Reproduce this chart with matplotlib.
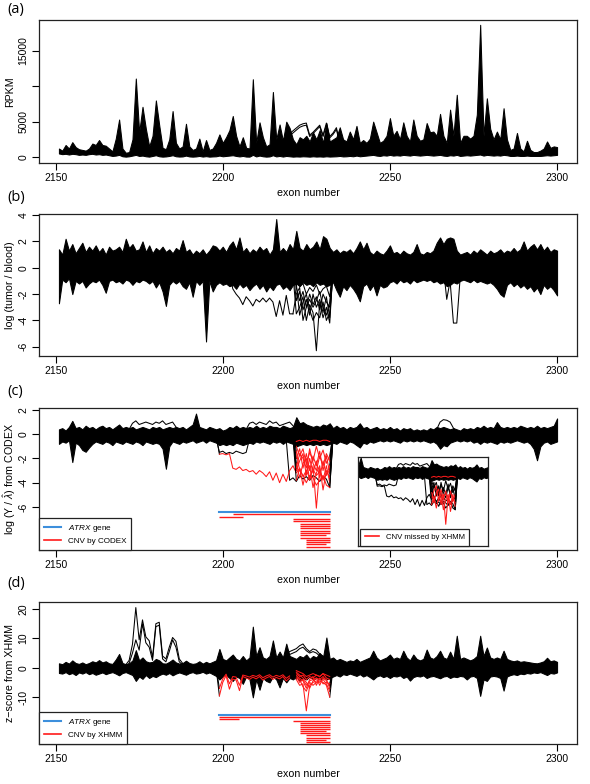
import matplotlib
matplotlib.use('Agg')
import matplotlib.pyplot as plt
from matplotlib.lines import Line2D

plt.rcParams['font.family'] = ['Liberation Sans', 'DejaVu Sans']
plt.rcParams['mathtext.fontset'] = 'custom'
plt.rcParams['mathtext.rm'] = 'Liberation Sans'
plt.rcParams['mathtext.it'] = 'Liberation Sans:italic'
plt.rcParams['axes.unicode_minus'] = False

# ---------------- data ----------------
exons = list(range(2151, 2301))
x_ticks = [2150, 2200, 2250, 2300]

# (a) RPKM envelope of all samples
a_upper = [1200, 900, 1700, 1200, 2100, 1400, 1100, 1000, 900, 1200,
           1900, 1700, 2400, 1700, 1600, 1200, 800, 2600, 5300, 1200,
           600, 700, 2500, 11100, 3500, 7100, 4000, 1500, 3000, 8000,
           4500, 1300, 1100, 2500, 6500, 2000, 1200, 1500, 4700, 1500,
           1000, 1200, 2600, 800, 2400, 1000, 1200, 2000, 3200, 2000,
           2800, 3800, 5800, 3000, 1500, 2800, 1300, 1200, 11000, 2000,
           4900, 2800, 1500, 1800, 9200, 2500, 4600, 2300, 5000, 4100,
           2500, 1800, 2800, 2500, 3000, 2200, 3500, 2500, 3800, 2000,
           4800, 2200, 2500, 2800, 4200, 2500, 2200, 3600, 2500, 4400,
           2000, 2400, 2000, 2600, 5000, 3500, 2000, 2300, 3000, 5500,
           3000, 3700, 2500, 4900, 3000, 2200, 5300, 3000, 2300, 2500,
           4800, 3500, 3600, 3000, 6100, 3000, 2000, 6700, 3000, 8800,
           2000, 3000, 3000, 2600, 3000, 6000, 18700, 3000, 8300, 4000,
           2500, 3600, 2500, 6900, 2500, 1000, 1200, 3400, 1200, 800,
           2300, 1000, 700, 700, 900, 1200, 2200, 1300, 1500, 1400]
a_lower = [500, 400, 450, 350, 450, 400, 300, 350, 300, 400,
           450, 350, 400, 300, 350, 250, 150, 200, 300, 100,
           50, 100, 200, 300, 150, 200, 100, 50, 150, 250,
           100, 50, 80, 150, 250, 100, 60, 80, 200, 80,
           50, 80, 150, 60, 120, 50, 80, 100, 200, 100,
           150, 200, 250, 150, 80, 150, 60, 50, 300, 80,
           200, 100, 50, 80, 250, 80, 150, 60, 150, 100,
           50, 80, 60, 100, 80, 50, 100, 60, 80, 50,
           100, 60, 80, 100, 150, 80, 100, 150, 100, 200,
           100, 150, 200, 250, 300, 200, 150, 250, 200, 300,
           200, 250, 200, 300, 250, 200, 300, 250, 200, 250,
           300, 250, 200, 250, 300, 200, 150, 250, 200, 300,
           150, 200, 250, 200, 250, 300, 350, 200, 300, 250,
           200, 250, 200, 300, 250, 150, 150, 200, 150, 150,
           200, 150, 150, 150, 150, 200, 250, 200, 250, 300]
a_out1_start = 2219
a_out1 = [2900, 3300, 3700, 4100, 4500, 4700, 4800, 3100, 3500, 4000,
          4500, 3100, 4800, 2900, 3400, 4150, 2000, 1500]
a_out2_start = 2219
a_out2 = [2600, 3000, 3400, 3800, 4200, 4400, 4500, 2900, 3300, 3800,
          4300, 2900, 4500, 2700, 3200, 3900, 1800, 1300]

# (b) log(tumor/blood)
b_upper = [1.4, 1.0, 2.2, 1.3, 1.8, 1.1, 1.5, 1.9, 1.2, 1.6,
           1.3, 1.7, 1.2, 1.5, 1.0, 1.6, 1.3, 1.4, 1.6, 1.2,
           2.2, 1.5, 1.8, 1.3, 1.4, 2.0, 1.2, 1.7, 1.1, 1.5,
           1.3, 1.6, 1.2, 1.4, 1.1, 1.5, 1.3, 2.1, 1.2, 1.4,
           1.0, 1.3, 1.1, 1.4, 1.0, 1.3, 1.7, 1.6, 1.3, 1.6,
           1.2, 1.7, 2.0, 1.4, 2.3, 1.2, 1.5, 1.1, 1.4, 1.2,
           1.6, 1.3, 1.5, 1.0, 1.4, 3.7, 1.2, 1.5, 1.2, 1.8,
           1.4, 2.8, 1.5, 1.3, 1.8, 1.4, 1.6, 2.0, 1.4, 2.4,
           2.2, 1.5, 1.2, 1.4, 1.1, 1.3, 1.2, 1.4, 1.1, 1.5,
           2.0, 1.4, 1.9, 1.2, 1.0, 1.3, 1.1, 1.0, 1.3, 1.7,
           1.1, 1.2, 1.0, 1.3, 1.1, 1.0, 1.2, 1.8, 1.1, 1.0,
           1.2, 1.1, 1.3, 1.9, 2.3, 1.8, 2.2, 2.3, 2.2, 1.3,
           1.0, 1.1, 1.2, 1.0, 1.3, 1.1, 1.4, 1.2, 1.0, 1.3,
           1.1, 1.2, 1.4, 1.1, 1.3, 1.2, 1.5, 1.2, 1.4, 2.0,
           1.3, 1.6, 1.8, 1.4, 1.8, 1.3, 1.6, 1.2, 1.4, 1.3]
b_lower = [-2.7, -0.9, -1.1, -0.8, -2.0, -1.0, -1.2, -1.0, -1.5, -1.2,
           -1.0, -1.1, -0.9, -1.3, -1.9, -1.0, -0.9, -1.1, -1.0, -1.2,
           -0.9, -1.0, -1.3, -1.0, -1.1, -0.9, -1.0, -1.2, -1.0, -1.5,
           -1.1, -1.8, -2.9, -1.3, -1.0, -1.2, -1.0, -1.4, -1.6, -1.1,
           -2.2, -1.0, -1.3, -1.0, -5.6, -1.0, -1.8, -1.3, -1.1, -1.3,
           -1.2, -1.4, -1.3, -1.6, -1.2, -1.5, -1.3, -1.7, -1.4, -1.2,
           -1.6, -1.3, -1.8, -1.4, -1.7, -1.3, -1.2, -1.6, -1.4, -1.7,
           -1.3, -1.2, -1.4, -1.1, -1.3, -1.2, -1.4, -1.1, -1.3, -1.2,
           -1.4, -1.3, -1.1, -1.7, -2.2, -1.4, -1.7, -1.3, -1.6, -2.0,
           -2.55, -1.4, -1.2, -1.7, -1.3, -2.1, -1.3, -1.5, -1.4, -1.1,
           -1.0, -1.2, -0.9, -1.1, -1.0, -1.2, -0.9, -1.1, -1.0, -0.9,
           -1.0, -0.9, -1.1, -1.0, -1.2, -1.1, -1.4, -1.3, -1.1, -1.2,
           -1.0, -0.9, -1.0, -1.1, -0.9, -1.1, -1.0, -1.1, -1.2, -1.1,
           -1.3, -1.6, -2.0, -2.2, -1.3, -1.1, -1.4, -1.2, -1.5, -1.3,
           -1.6, -1.4, -1.8, -1.5, -2.0, -1.3, -1.6, -1.4, -1.7, -2.1]
b_step_start = 2202
b_step = [-0.3, -1.6, -2.0, -2.3, -2.8, -2.2, -2.5, -2.9, -2.4, -2.6,
          -2.3, -2.6, -2.3, -2.6, -3.7, -2.5, -3.6, -2.1, -3.5, -3.5]
b_dip_start = 2266
b_dip = [0.0, -2.4, -1.0, -4.2, -4.2, -0.8, 0.0]
del_start = 2221
b_del = [[0.0, -1.5, -2.5, -1.8, -3.0, -2.0, -2.8, -2.2, -3.2, -2.0, -2.6, -3.0, 0.0],
         [0.0, -2.5, -1.8, -3.2, -2.4, -3.6, -2.0, -3.0, -2.4, -3.4, -2.2, -3.8, 0.0],
         [-0.5, -3.5, -3.0, -2.2, -4.0, -2.8, -3.4, -6.3, -2.6, -3.8, -3.0, -4.2, 0.0],
         [0.0, -1.2, -3.6, -2.6, -2.0, -3.2, -4.0, -3.4, -3.8, -2.6, -4.0, -3.4, -0.5],
         [-3.5, -2.0, -1.5, -4.0, -3.0, -2.4, -3.0, -2.5, -1.8, -3.0, -3.6, -2.6, 0.0],
         [0.0, -1.0, -1.4, -1.2, -2.0, -1.5, -1.8, -1.3, -2.0, -1.6, -1.4, -2.2, 0.0]]

# (c) log(Y / lambda-hat) from CODEX
c_upper = [0.4, 0.5, 0.3, 0.6, 1.1, 0.5, 0.6, 0.4, 0.7, 0.5,
           0.6, 0.4, 0.6, 0.7, 0.5, 0.6, 0.4, 0.6, 0.8, 0.5,
           0.6, 0.5, 0.6, 0.4, 0.5, 0.6, 0.5, 0.4, 0.6, 0.5,
           0.6, 0.4, 0.5, 0.6, 0.5, 0.6, 0.5, 0.6, 0.4, 0.6,
           0.8, 1.7, 0.6, 0.5, 0.4, 0.6, 0.5, 0.4, 0.5, 0.3,
           0.4, 0.6, 0.5, 0.7, 0.5, 0.6, 0.5, 0.6, 0.5, 0.7,
           0.5, 0.6, 0.5, 0.7, 0.6, 0.6, 0.5, 0.7, 0.6, 0.5,
           0.6, 1.4, 0.9, 1.0, 0.8, 0.7, 0.6, 0.7, 0.6, 0.8,
           0.7, 0.9, 0.5, 0.7, 0.5, 0.6, 0.4, 0.6, 0.5, 0.6,
           0.9, 0.5, 0.6, 0.4, 0.5, 0.6, 0.4, 0.5, 0.4, 0.6,
           0.4, 0.5, 0.3, 0.5, 0.4, 0.5, 0.3, 0.4, 0.3, 0.4,
           0.3, 0.5, 0.4, 0.6, 0.5, 0.6, 0.5, 0.4, 0.5, 0.4,
           0.3, 0.5, 0.4, 0.5, 0.4, 0.6, 0.5, 0.7, 0.5, 0.6,
           0.5, 1.0, 0.6, 0.5, 0.6, 0.5, 0.6, 0.5, 0.7, 0.6,
           0.5, 0.6, 0.5, 0.7, 0.5, 0.6, 0.5, 0.6, 0.7, 1.3]
c_lower = [-0.8, -0.6, -0.7, -0.5, -2.3, -0.7, -0.9, -1.3, -1.45, -1.1,
           -0.8, -0.6, -0.7, -0.8, -0.6, -0.7, -0.9, -0.6, -0.7, -0.8,
           -0.6, -0.7, -0.8, -0.6, -0.7, -0.9, -0.6, -0.7, -0.8, -0.7,
           -0.8, -1.2, -2.85, -1.0, -0.6, -0.7, -0.8, -0.6, -0.7, -0.6,
           -0.5, -0.7, -0.6, -0.5, -0.7, -0.5, -0.6, -0.7, -0.9, -0.8,
           -0.9, -0.8, -0.9, -0.7, -0.8, -0.9, -0.8, -0.7, -0.8, -0.6,
           -0.7, -0.6, -0.7, -0.8, -0.6, -0.7, -0.6, -0.8, -0.6, -0.7,
           -0.8, -1.0, -0.9, -0.8, -0.9, -0.8, -0.9, -0.8, -0.9, -0.8,
           -0.9, -0.8, -0.7, -0.8, -0.6, -0.7, -0.8, -0.6, -0.7, -0.9,
           -1.1, -0.7, -0.8, -0.6, -0.7, -0.6, -0.5, -0.6, -0.5, -0.6,
           -0.5, -0.6, -0.7, -0.5, -0.6, -0.5, -0.6, -0.5, -0.6, -0.5,
           -0.6, -0.7, -0.6, -0.8, -1.2, -0.9, -1.0, -0.7, -0.6, -0.5,
           -0.6, -0.5, -0.6, -0.5, -0.7, -0.6, -0.8, -0.6, -0.7, -0.6,
           -0.7, -0.8, -0.6, -0.7, -0.6, -0.7, -0.6, -0.5, -0.6, -0.7,
           -0.6, -0.8, -1.2, -2.15, -1.0, -0.7, -0.6, -0.8, -0.7, -0.6]
c_hi1_start = 2172
c_hi1 = [0.4, 0.9, 1.1, 0.8, 0.9, 1.0, 0.9, 0.8, 1.0, 0.9, 1.1, 0.8, 0.9, 1.0, 0.6, 0.3]
c_hi2_start = 2207
c_hi2 = [0.4, 0.9, 1.0, 0.8, 1.0, 0.9, 0.8, 1.1, 0.9, 1.0, 0.7, 0.8, 0.9, 1.0, 0.7, 0.3]
c_hi3_start = 2264
c_hi3 = [0.4, 1.0, 1.2, 1.15, 1.0, 0.5, 0.2]
c_blk1_start = 2198
c_blk1 = [-0.3, -1.5, -1.4, -1.6, -1.5, -1.6, -1.4, -1.5, -1.6, -1.5, -0.4]
c_blk2_start = 2219
c_blk2 = [-0.5, -3.8, -3.6, -3.9, -3.4, -3.7, -3.5, -3.8, -3.4, -3.6, -3.9, -3.5, -3.7, -4.4, -0.3]
c_step_start = 2198
c_step = [0.0, -1.65, -1.6, -1.7, -1.6, -2.8, -2.9, -2.7, -3.0, -2.9,
          -3.1, -3.0, -3.3, -3.0, -3.2, -3.5, -3.1, -3.8, -3.2, -4.0,
          -3.3, -3.9, -3.0, -2.6, -3.2, -2.8, -3.5, -3.0, -3.6, -2.9,
          -3.4, -3.1, -3.7, -3.3, -3.0, 0.0]
c_del = [[-0.2, -1.0, -1.8, -1.2, -2.5, -1.5, -2.2, -1.0, -2.0, -1.3, -2.4, -1.8, 0.0],
         [0.1, -2.0, -1.2, -2.8, -1.6, -3.0, -1.8, -2.6, -1.4, -3.0, -1.8, -3.2, -0.1],
         [-0.1, -3.0, -2.2, -1.6, -3.4, -2.0, -3.2, -2.2, -3.6, -2.2, -3.4, -2.6, 0.1],
         [0.0, -2.4, -3.6, -2.4, -2.0, -3.8, -2.6, -6.1, -2.8, -3.8, -2.6, -4.0, -0.2],
         [-0.3, -3.8, -2.8, -4.2, -3.0, -2.6, -4.4, -3.2, -2.6, -4.6, -3.0, -3.6, 0.0],
         [0.2, -1.4, -3.0, -3.4, -4.0, -3.4, -3.6, -4.2, -3.8, -3.4, -4.2, -4.4, -0.1],
         [-0.2, -0.6, -0.5, -0.6, -0.5, -0.6, -0.5, -0.5, -0.6, -0.5, -0.5, -0.6, -0.2],
         [0.0, -2.8, -1.6, -2.0, -2.8, -1.2, -2.4, -3.0, -1.8, -2.6, -1.6, -2.2, 0.2]]
inset_red = [2, 3, 4, 6]          # CNVs missed by XHMM (indices into c_del)
c_cnv_start = [2203, 2199, 2221, 2221, 2223, 2223, 2223, 2223, 2223, 2223, 2223, 2225, 2225, 2225, 2225]
c_cnv_end = [2232, 2206, 2232, 2232, 2232, 2232, 2232, 2232, 2232, 2231, 2232, 2232, 2232, 2231, 2232]

# (d) z-score from XHMM
d_upper = [1.5, 1.2, 2.0, 1.4, 2.5, 1.6, 1.3, 1.8, 1.2, 1.6,
           2.2, 1.8, 2.6, 1.8, 2.2, 1.5, 1.3, 2.8, 4.7, 1.6,
           1.2, 1.5, 2.5, 6.0, 2.5, 3.5, 2.2, 1.8, 2.0, 3.0,
           2.5, 1.5, 1.4, 2.0, 2.8, 1.8, 1.4, 1.6, 2.4, 1.6,
           1.3, 1.5, 2.2, 1.4, 2.0, 1.5, 2.0, 2.5, 6.4, 3.0,
           2.5, 3.5, 4.5, 3.0, 2.5, 4.0, 2.5, 3.5, 14.0, 4.0,
           7.0, 3.5, 3.0, 4.0, 9.3, 3.5, 5.5, 3.5, 8.2, 4.0,
           3.5, 3.0, 4.0, 3.5, 4.5, 3.0, 4.0, 3.5, 5.0, 3.5,
           10.3, 3.0, 3.5, 2.5, 3.0, 2.5, 2.0, 2.5, 2.2, 3.0,
           2.0, 2.5, 3.0, 3.5, 5.8, 3.5, 2.5, 3.0, 3.5, 4.5,
           3.0, 3.5, 3.0, 5.8, 3.5, 2.5, 4.5, 3.0, 2.5, 3.0,
           6.2, 3.5, 3.0, 4.0, 5.8, 3.5, 3.0, 5.5, 3.0, 10.9,
           3.0, 3.5, 3.0, 2.5, 3.0, 4.0, 10.9, 4.0, 6.9, 3.5,
           3.0, 3.5, 3.0, 5.8, 3.0, 2.5, 2.2, 2.5, 2.0, 2.2,
           2.0, 1.8, 1.6, 1.5, 1.8, 2.2, 3.4, 2.2, 2.5, 2.0]
d_lower = [-1.8, -2.0, -1.5, -2.2, -1.8, -2.5, -1.6, -2.0, -1.5, -2.2,
           -1.8, -2.4, -2.0, -1.6, -2.2, -1.8, -1.5, -2.0, -2.6, -1.8,
           -1.5, -2.0, -2.5, -4.5, -3.0, -3.8, -2.5, -3.5, -2.8, -3.2,
           -2.5, -2.0, -2.4, -1.8, -2.6, -2.0, -1.6, -2.0, -2.4, -1.8,
           -1.5, -2.0, -1.8, -1.4, -2.0, -1.6, -2.2, -2.8, -4.0, -3.0,
           -2.5, -3.5, -4.5, -3.0, -3.5, -5.5, -3.0, -4.0, -10.1, -4.0,
           -7.5, -3.5, -4.5, -5.0, -3.0, -4.0, -6.7, -3.5, -5.0, -3.5,
           -4.0, -3.0, -4.5, -3.5, -4.0, -3.0, -4.0, -3.5, -4.0, -3.5,
           -4.0, -3.5, -3.0, -2.5, -3.0, -2.2, -2.5, -2.0, -2.4, -2.8,
           -2.2, -3.0, -2.5, -3.2, -4.0, -3.0, -2.6, -3.2, -2.8, -3.5,
           -2.8, -3.0, -2.6, -3.5, -3.0, -4.4, -3.2, -2.8, -3.0, -2.6,
           -3.5, -3.0, -2.8, -3.2, -3.6, -3.0, -2.8, -3.5, -3.0, -3.2,
           -2.8, -3.0, -4.0, -3.0, -2.8, -3.5, -9.6, -4.0, -4.5, -3.0,
           -2.8, -3.0, -3.5, -7.8, -3.0, -2.5, -2.2, -2.5, -2.0, -2.2,
           -1.8, -2.0, -1.6, -1.8, -1.5, -2.0, -2.5, -1.8, -2.0, -1.6]
d_hi1_start = 2171
d_hi1 = [1.0, 2.5, 8.0, 20.5, 9.5, 16.3, 10.5, 9.2, 3.5, 15.0, 15.5, 4.0, 3.0, 7.0, 10.3, 9.0, 3.0, 1.5, 0.5]
d_hi2_start = 2171
d_hi2 = [0.5, 1.5, 5.0, 9.5, 6.0, 15.0, 8.5, 7.0, 2.5, 14.0, 14.5, 3.0, 2.0, 5.5, 9.5, 7.0, 2.0, 1.0, 0.0]
d_hi3_start = 2218
d_hi3 = [3.0, 4.7, 5.5, 6.0, 6.5, 7.5, 8.1, 6.5, 5.5, 6.4, 6.0, 4.7, 4.0, 3.0, 2.0, 1.0]
d_hi4_start = 2219
d_hi4 = [3.0, 4.5, 5.0, 5.5, 6.5, 7.0, 5.8, 5.0, 5.5, 5.0, 4.0, 3.5, 2.5, 1.0]
d_red_start = 2198
d_red1 = [0.0, -9.6, -5.0, -2.7, -7.3, -3.9, -4.2, -7.8, -3.0, -3.5, -4.0, -3.2,
          -3.8, -3.0, -4.2, -3.5, -3.0, -4.0, -3.3, -3.8, -3.0, -4.5, -3.5, -2.5]
d_red2 = [0.0, -7.0, -3.8, -2.2, -5.5, -3.0, -3.2, -6.0, -2.5, -2.8, -3.2, -2.6,
          -3.0, -2.4, -3.4, -2.8, -2.4, -3.2, -2.6, -3.0, -2.4, -3.6, -2.8, -2.0]
d_del = [[-2.5, -2.0, -3.0, -2.5, -4.0, -3.0, -3.5, -2.5, -3.0, -2.0, -3.5, -4.0, 0.0],
         [-2.0, -3.0, -5.0, -4.0, -6.0, -4.5, -4.0, -3.5, -4.0, -3.0, -4.5, -6.0, 0.0],
         [0.0, -4.0, -6.0, -5.5, -14.7, -6.0, -5.0, -4.5, -5.0, -4.0, -5.5, -8.0, 0.0],
         [0.0, -2.5, -4.0, -6.5, -8.0, -5.0, -6.0, -5.0, -4.5, -5.0, -6.0, -10.0, 0.0],
         [0.0, -1.5, -2.5, -3.5, -5.0, -7.0, -4.5, -3.5, -6.0, -3.5, -4.0, -7.0, 0.0],
         [0.0, -3.5, -3.5, -4.5, -7.0, -4.0, -3.0, -6.0, -3.5, -5.5, -5.0, -5.5, 0.0],
         [0.0, -1.0, -1.5, -2.0, -3.0, -2.5, -2.0, -2.5, -3.0, -2.0, -2.5, -3.0, 0.0]]
d_cnv_start = [2199, 2199, 2221, 2223, 2223, 2223, 2223, 2223, 2223, 2225, 2225, 2225, 2225]
d_cnv_end = [2232, 2205, 2232, 2232, 2232, 2232, 2232, 2231, 2232, 2232, 2232, 2231, 2232]

atrx_start, atrx_end = 2199, 2232

# ---------------- drawing ----------------
W, H = 590, 784
fig = plt.figure(figsize=(W / 100, H / 100), dpi=100)
RED = '#ff1a1a'
BLUE = '#3d8fdc'
LW = 0.75


def px_axes(left, top, right, bottom):
    return fig.add_axes([left / W, 1 - bottom / H, (right - left) / W, (bottom - top) / H])


def xs(start, vals):
    return list(range(start, start + len(vals)))


def red_line(ax, start, vals):
    """Sample line: black where it joins the band, red inside the CNV region."""
    x = xs(start, vals)
    ax.plot(x[:2], vals[:2], color='black', lw=LW)
    ax.plot(x[-2:], vals[-2:], color='black', lw=LW)
    ax.plot(x[1:-1], vals[1:-1], color=RED, lw=LW)


def style(ax, ylim, yticks, ylabels, ylabel):
    ax.set_xlim(2145.04, 2305.96)
    ax.set_ylim(*ylim)
    ax.set_xticks(x_ticks)
    ax.set_xticklabels([str(t) for t in x_ticks])
    ax.set_yticks(yticks)
    ax.set_yticklabels(ylabels, rotation=90, va='center')
    ax.tick_params(direction='out', length=5, width=0.8, labelsize=7.5, pad=2.5)
    for sp in ax.spines.values():
        sp.set_linewidth(0.9)
        sp.set_color('#222222')
    ax.set_xlabel('exon number', fontsize=7.7)
    ax.xaxis.set_label_coords(0.5, -30 / 142)
    ax.xaxis.label.set_va('center')
    ax.set_ylabel(ylabel, fontsize=7.7)
    ax.yaxis.set_label_coords(-29 / 538, 0.5)
    ax.yaxis.label.set_va('center')


def legend(ax, handles, labels, anchor=(0, 0), fs=5.9, hl=2.1):
    lg = ax.legend(handles, labels, loc='lower left', bbox_to_anchor=anchor,
                   borderaxespad=0, fancybox=False, framealpha=1, edgecolor='#222222',
                   fontsize=fs, handlelength=hl, handletextpad=0.8, borderpad=0.6,
                   labelspacing=0.45)
    lg.get_frame().set_linewidth(0.9)
    lg.set_zorder(10)
    return lg


# (a)
ax = px_axes(39, 20, 577, 163)
ax.fill_between(exons, a_lower, a_upper, facecolor='black', edgecolor='black', linewidth=LW)
ax.plot(xs(a_out1_start, a_out1), a_out1, color='black', lw=LW)
ax.plot(xs(a_out2_start, a_out2), a_out2, color='black', lw=LW)
style(ax, (-849, 19378), [0, 5000, 10000, 15000], ['0', '5000', '', '15000'], 'RPKM')

# (b)
ax = px_axes(39, 214, 577, 356)
ax.fill_between(exons, b_lower, b_upper, facecolor='black', edgecolor='black', linewidth=LW)
ax.plot(xs(b_step_start, b_step), b_step, color='black', lw=LW)
ax.plot(xs(b_dip_start, b_dip), b_dip, color='black', lw=LW)
for line in b_del:
    ax.plot(xs(del_start, line), line, color='black', lw=LW)
style(ax, (-6.7, 4.08), [4, 2, 0, -2, -4, -6], ['4', '2', '0', '-2', '-4', '-6'],
      'log (tumor / blood)')

# (c)
ax = px_axes(39, 408, 577, 550)


def draw_c(ax, red_idx, step_red):
    ax.fill_between(exons, c_lower, c_upper, facecolor='black', edgecolor='black', linewidth=LW)
    for s, v in [(c_hi1_start, c_hi1), (c_hi2_start, c_hi2), (c_hi3_start, c_hi3),
                 (c_blk1_start, c_blk1), (c_blk2_start, c_blk2)]:
        ax.plot(xs(s, v), v, color='black', lw=LW)
    if step_red:
        red_line(ax, c_step_start, c_step)
    else:
        ax.plot(xs(c_step_start, c_step), c_step, color='black', lw=LW)
    for i, line in enumerate(c_del):
        if i not in red_idx:
            ax.plot(xs(del_start, line), line, color='black', lw=LW)
    for i, line in enumerate(c_del):
        if i in red_idx:
            red_line(ax, del_start, line)


draw_c(ax, list(range(len(c_del))), True)
ax.plot([atrx_start, atrx_end], [-6.42, -6.42], color=BLUE, lw=1.5)
for k, (s, e) in enumerate(zip(c_cnv_start, c_cnv_end)):
    yv = -6.62 - 0.19 * k
    ax.plot([s, e], [yv, yv], color=RED, lw=1.0, solid_capstyle='butt')
style(ax, (-9.55, 2.16), [2, 0, -2, -4, -6], ['2', '0', '-2', '-4', '-6'],
      r'log (Y / $\hat{\lambda}$) from CODEX')
legend(ax, [Line2D([], [], color=BLUE, lw=1.5), Line2D([], [], color=RED, lw=1.2)],
       [r'$\it{ATRX}$ gene', 'CNV by CODEX'])

# inset of (c)
axi = px_axes(358.3, 456.7, 488.3, 545.7)
draw_c(axi, inset_red, False)
axi.set_xlim(2191, 2246)
axi.set_ylim(-8.6, 1.8)
axi.set_xticks([])
axi.set_yticks([])
for sp in axi.spines.values():
    sp.set_linewidth(0.9)
    sp.set_color('#222222')
legend(axi, [Line2D([], [], color=RED, lw=1.2)], ['CNV missed by XHMM'],
       anchor=(0.013, 0), fs=5.6, hl=1.9)

# (d)
ax = px_axes(39, 602, 577, 744)
ax.fill_between(exons, d_lower, d_upper, facecolor='black', edgecolor='black', linewidth=LW)
for s, v in [(d_hi1_start, d_hi1), (d_hi2_start, d_hi2), (d_hi3_start, d_hi3),
             (d_hi4_start, d_hi4)]:
    ax.plot(xs(s, v), v, color='black', lw=LW)
red_line(ax, d_red_start, d_red1)
red_line(ax, d_red_start, d_red2)
for line in d_del:
    red_line(ax, del_start, line)
ax.plot([atrx_start, atrx_end], [-16.1, -16.1], color=BLUE, lw=1.5)
for k, (s, e) in enumerate(zip(d_cnv_start, d_cnv_end)):
    yv = -16.8 - 0.70 * k
    ax.plot([s, e], [yv, yv], color=RED, lw=1.0, solid_capstyle='butt')
style(ax, (-26.0, 22.4), [20, 10, 0, -10], ['20', '10', '0', '-10'],
      'z\u2212score from XHMM')
legend(ax, [Line2D([], [], color=BLUE, lw=1.5), Line2D([], [], color=RED, lw=1.2)],
       [r'$\it{ATRX}$ gene', 'CNV by XHMM'])

# panel letters
for lab, yc in [('(a)', 9), ('(b)', 197), ('(c)', 391), ('(d)', 583)]:
    fig.text(7 / W, 1 - yc / H, lab, fontsize=10.5, va='center', ha='left',
             family=['Open Sans', 'DejaVu Sans'])

fig.savefig('out.png', dpi=100)
